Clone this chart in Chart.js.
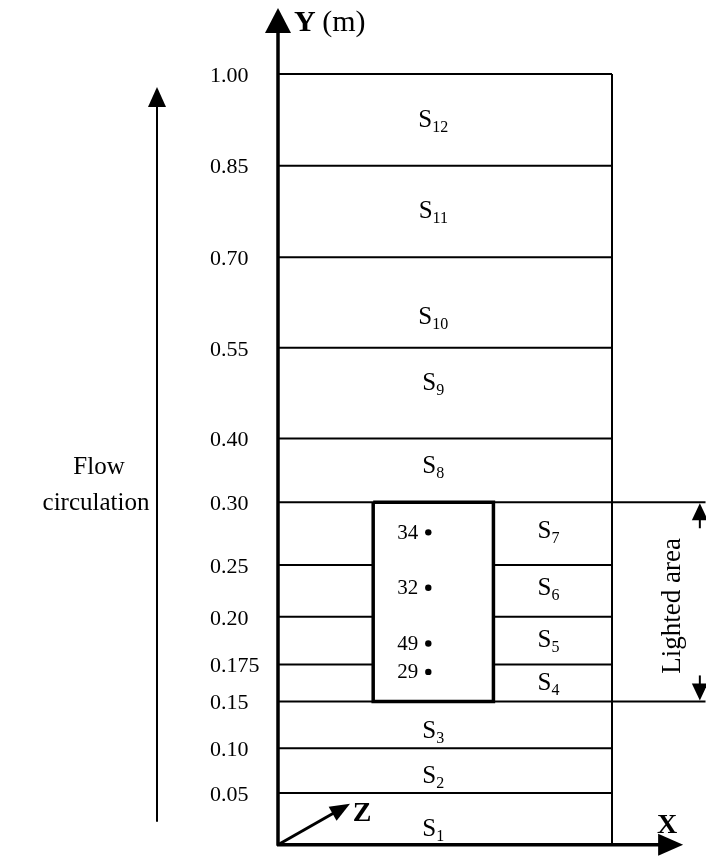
<!DOCTYPE html>
<html>
<head>
<meta charset="utf-8">
<script src="https://cdn.jsdelivr.net/npm/chart.js@4.4.0/dist/chart.umd.min.js"></script>
<style>
  html, body { margin: 0; padding: 0; background: #fff; }
</style>
</head>
<body>
<canvas id="sketch" width="706" height="861"></canvas>
<script>
const FONT = '"Liberation Serif", "Times New Roman", serif';

// section boundaries (m)
const levels = [0, 0.05, 0.10, 0.15, 0.175, 0.20, 0.25, 0.30, 0.40, 0.55, 0.70, 0.85, 1.00];
const tickLabels = ['0.05', '0.10', '0.15', '0.175', '0.20', '0.25', '0.30', '0.40', '0.55', '0.70', '0.85', '1.00'];
const sectionNums = [1, 2, 3, 4, 5, 6, 7, 8, 9, 10, 11, 12];
const splitLevels = [0.175, 0.20, 0.25];
const lightedLevels = [0.15, 0.30];

// probes inside the lighted zone
const probeIds = ['34', '32', '49', '29'];
const probeY = [0.276, 0.228, 0.186, 0.170];
const probeX = [0.45, 0.45, 0.45, 0.45];

// drawing layout (the sketch stretches the lower part of the column)
const levelDraw = [0, 0.0672, 0.1253, 0.186, 0.2339, 0.2959, 0.363, 0.4444, 0.5271, 0.6447, 0.7623, 0.8811, 1];
const boxX = [0.285, 0.645];
const extX = 1.28;
const labelNudge = [10, 5, 6, 0, -1, -3, -3, -4, -10, 14, 0, 0];

function interp(xs, ys, v) {
  if (v <= xs[0]) return ys[0];
  for (let i = 1; i < xs.length; i += 1) {
    if (v <= xs[i]) {
      const t = (v - xs[i - 1]) / (xs[i] - xs[i - 1]);
      return ys[i - 1] + t * (ys[i] - ys[i - 1]);
    }
  }
  return ys[ys.length - 1];
}

class SchematicScale extends Chart.LinearScale {
  getPixelForValue(value) {
    const f = interp(levels, levelDraw, value);
    return this.bottom - f * (this.bottom - this.top);
  }
  getValueForPixel(pixel) {
    const f = (this.bottom - pixel) / (this.bottom - this.top);
    return interp(levelDraw, levels, f);
  }
}
SchematicScale.id = 'schematic';
SchematicScale.defaults = Chart.LinearScale.defaults;
Chart.register(SchematicScale);

const lineDs = (pts, width) => ({
  data: pts,
  showLine: true,
  borderColor: '#000',
  borderWidth: width,
  pointRadius: 0,
  clip: false,
});

const datasets = [];
levels.slice(1).forEach((v) => {
  if (splitLevels.includes(v)) {
    datasets.push(lineDs([{ x: 0, y: v }, { x: boxX[0], y: v }], 2));
    datasets.push(lineDs([{ x: boxX[1], y: v }, { x: 1, y: v }], 2));
  } else {
    const end = lightedLevels.includes(v) ? extX : 1;
    datasets.push(lineDs([{ x: 0, y: v }, { x: end, y: v }], 2));
  }
});
// right wall of the column
datasets.push(lineDs([{ x: 1, y: 0 }, { x: 1, y: levels[levels.length - 1] }], 2));
// lighted zone box
const [lo, hi] = lightedLevels;
datasets.push(lineDs([
  { x: boxX[0], y: hi }, { x: boxX[1], y: hi }, { x: boxX[1], y: lo },
  { x: boxX[0], y: lo }, { x: boxX[0], y: hi },
], 3.5));
// probes
datasets.push({
  data: probeY.map((y, i) => ({ x: probeX[i], y })),
  pointRadius: 3.2,
  pointBackgroundColor: '#000',
  pointBorderWidth: 0,
  showLine: false,
});

function head(ctx, tx, ty, dx, dy, len, half) {
  const n = Math.hypot(dx, dy);
  const ux = dx / n;
  const uy = dy / n;
  const bx = tx - ux * len;
  const by = ty - uy * len;
  ctx.beginPath();
  ctx.moveTo(tx, ty);
  ctx.lineTo(bx - uy * half, by + ux * half);
  ctx.lineTo(bx + uy * half, by - ux * half);
  ctx.closePath();
  ctx.fill();
}

function seg(ctx, x1, y1, x2, y2, w) {
  ctx.lineWidth = w;
  ctx.beginPath();
  ctx.moveTo(x1, y1);
  ctx.lineTo(x2, y2);
  ctx.stroke();
}

const sketchPlugin = {
  id: 'sketch',
  afterDatasetsDraw(chart) {
    const { ctx, scales: { x, y } } = chart;
    const x0 = x.getPixelForValue(0);
    const y0 = y.getPixelForValue(0);
    ctx.save();
    ctx.fillStyle = '#000';
    ctx.strokeStyle = '#000';
    ctx.lineCap = 'butt';

    // Y axis
    seg(ctx, x0, y0 + 1, x0, 30, 3.5);
    head(ctx, x0, 8, 0, -1, 25, 13);
    ctx.textBaseline = 'middle';
    ctx.textAlign = 'left';
    ctx.font = `bold 30px ${FONT}`;
    ctx.fillText('Y', x0 + 16, 23);
    const wY = ctx.measureText('Y ').width;
    ctx.font = `30px ${FONT}`;
    ctx.fillText('(m)', x0 + 15 + wY, 23);

    // X axis
    const xTip = x.getPixelForValue(1.213);
    seg(ctx, x0 - 1, y0, xTip - 20, y0, 3.5);
    head(ctx, xTip, y0, 1, 0, 25, 11);
    ctx.font = `bold 28px ${FONT}`;
    ctx.textAlign = 'center';
    ctx.fillText('X', xTip - 16, y0 - 19);

    // Z axis
    const zx = x0 + 72;
    const zy = y0 - 41;
    seg(ctx, x0, y0, zx - 14, zy + 8, 3);
    head(ctx, zx, zy, 72, -41, 20, 8);
    ctx.fillText('Z', zx + 12, zy + 10);

    // section labels
    levels.slice(1).forEach((v, i) => {
      const num = sectionNums[i];
      const inSplit = num >= 4 && num <= 7;
      const cx = x.getPixelForValue(inSplit ? 0.81 : 0.465);
      const cy = (y.getPixelForValue(levels[i]) + y.getPixelForValue(v)) / 2 + labelNudge[i];
      ctx.font = `25px ${FONT}`;
      const wS = ctx.measureText('S').width;
      ctx.font = `16px ${FONT}`;
      const wN = ctx.measureText(String(num)).width;
      const left = cx - (wS + wN) / 2;
      ctx.textAlign = 'left';
      ctx.textBaseline = 'alphabetic';
      ctx.font = `25px ${FONT}`;
      ctx.fillText('S', left, cy + 7);
      ctx.font = `16px ${FONT}`;
      ctx.fillText(String(num), left + wS, cy + 12);
    });

    // probe labels
    ctx.font = `21px ${FONT}`;
    ctx.textAlign = 'right';
    ctx.textBaseline = 'middle';
    probeIds.forEach((id, i) => {
      ctx.fillText(id, x.getPixelForValue(probeX[i]) - 10, y.getPixelForValue(probeY[i]) + 1);
    });

    // flow circulation arrow
    const fx = 157;
    seg(ctx, fx, y0 - 23, fx, y.getPixelForValue(1) + 30, 2);
    head(ctx, fx, y.getPixelForValue(1) + 13, 0, -1, 20, 9);
    ctx.font = `25px ${FONT}`;
    ctx.textAlign = 'center';
    ctx.fillText('Flow', 99, 467);
    ctx.fillText('circulation', 96, 503);

    // lighted area
    const ax = x.getPixelForValue(1.263);
    const yt = y.getPixelForValue(hi);
    const yb = y.getPixelForValue(lo);
    seg(ctx, ax, yt + 10, ax, yt + 26, 2);
    head(ctx, ax, yt + 1, 0, -1, 17, 8);
    seg(ctx, ax, yb - 26, ax, yb - 10, 2);
    head(ctx, ax, yb - 1, 0, 1, 17, 8);
    ctx.save();
    ctx.translate(x.getPixelForValue(1.183), (yt + yb) / 2 + 4);
    ctx.rotate(-Math.PI / 2);
    ctx.font = `27px ${FONT}`;
    ctx.textAlign = 'center';
    ctx.textBaseline = 'middle';
    ctx.fillText('Lighted area', 0, 0);
    ctx.restore();

    ctx.restore();
  },
};

new Chart(document.getElementById('sketch').getContext('2d'), {
  type: 'scatter',
  data: { datasets },
  options: {
    responsive: false,
    animation: false,
    devicePixelRatio: 1,
    layout: { padding: { top: 74, bottom: 13, left: 210, right: 94 } },
    plugins: { legend: { display: false }, tooltip: { enabled: false } },
    scales: {
      x: { type: 'linear', min: 0, max: 1, display: false },
      y: {
        type: 'schematic',
        position: 'left',
        min: 0,
        max: 1,
        grid: { display: false },
        border: { display: false },
        afterFit: (scale) => { scale.width = 68; },
        afterBuildTicks: (scale) => {
          scale.ticks = levels.slice(1).map((v) => ({ value: v }));
        },
        ticks: {
          autoSkip: false,
          crossAlign: 'far',
          labelOffset: 2,
          color: '#000',
          font: { family: FONT, size: 22 },
          callback: (value, index) => tickLabels[index],
        },
      },
    },
  },
  plugins: [sketchPlugin],
});
</script>
</body>
</html>
